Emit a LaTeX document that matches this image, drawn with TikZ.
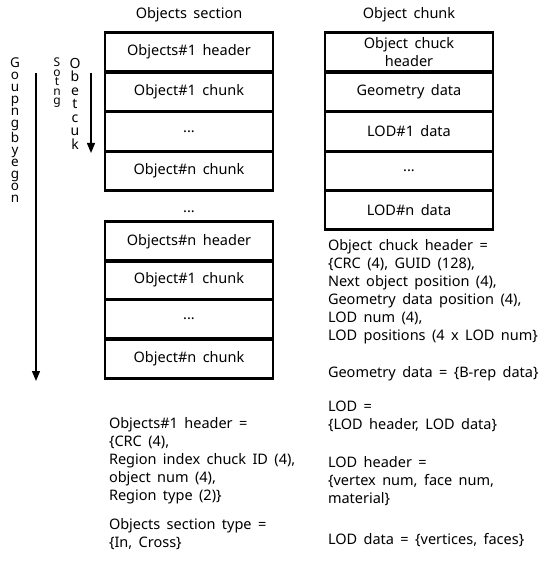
\documentclass[tikz,border=0pt]{standalone}
\usepackage{fontspec}
\setmainfont{Noto Sans}[WordSpace=1.7]
\usetikzlibrary{arrows.meta}
\begin{document}
\begin{tikzpicture}[x=1pt,y=-1pt,
  every node/.style={inner sep=0pt, outer sep=0pt},
  cell/.style={draw=black, line width=2.6pt, minimum width=168pt, minimum height=39.5pt,
    font=\fontsize{14.5}{15}\selectfont, align=center},
  title/.style={font=\fontsize{14.5}{15}\selectfont},
  note/.style={font=\fontsize{14.5}{18}\selectfont, align=left, anchor=north west},
  vert/.style={font=\fontsize{13.5}{12}\selectfont, align=center, anchor=north},
  flow/.style={line width=1.3pt, -{Triangle[length=10pt,width=8pt]}}]
\useasboundingbox (0,0) rectangle (544,564);

% titles
\node[title] (t1) at (189,15) {Objects section};
\node[title] (t2) at (409,15) {Object chunk};

% objects section, first group
\node[cell] (a1) at (189,52)    {Objects\#1 header};
\node[cell] (a2) at (189,92)    {Object\#1 chunk};
\node[cell] (a3) at (189,131.5) {...};
\node[cell] (a4) at (189,171)   {Object\#n chunk};

\node[title] (gap) at (189,212) {...};

% objects section, last group
\node[cell] (b1) at (189,241.5) {Objects\#n header};
\node[cell] (b2) at (189,280)   {Object\#1 chunk};
\node[cell] (b3) at (189,319)   {...};
\node[cell] (b4) at (189,359)   {Object\#n chunk};

% object chunk layout
\node[cell, font=\fontsize{14.5}{18}\selectfont] (c1) at (409,52) {Object chuck\\header};
\node[cell] (c2) at (409,92)    {Geometry data};
\node[cell] (c3) at (409,131.5) {LOD\#1 data};
\node[cell] (c4) at (409,171)   {...};
\node[cell] (c5) at (409,210)   {LOD\#n data};

% ordering arrows
\coordinate (g0) at (36,73);
\coordinate (g1) at (36,381);
\draw[flow] (g0) -- (g1);
\coordinate (o0) at (91,73);
\coordinate (o1) at (91,153);
\draw[flow] (o0) -- (o1);

% stacked labels
\node[vert] (lg) at (15,58) {G\\o\\u\\p\\n\\g\\b\\y\\e\\g\\o\\n};
\node[vert, font=\fontsize{12}{9.5}\selectfont] (ls) at (57,58) {S\\o\\t\\n\\g};
\node[vert, font=\fontsize{14}{13.5}\selectfont] (lo) at (75,58) {O\\b\\e\\t\\c\\u\\k};

% field descriptions
\node[note] (n1) at (109,417) {Objects\#1 header =\\
\{CRC (4),\\
Region index chuck ID (4),\\
object num (4),\\
Region type (2)\}};
\node[note] (n2) at (109,518) {Objects section type =\\
\{In, Cross\}};

\node[note] (m1) at (328,239) {Object chuck header =\\
\{CRC (4), GUID (128),\\
Next object position (4),\\
Geometry data position (4),\\
LOD num (4),\\
LOD positions (4 x LOD num\}};
\node[note] (m2) at (328,366) {Geometry data = \{B-rep data\}};
\node[note] (m3) at (328,401) {LOD =\\
\{LOD header, LOD data\}};
\node[note] (m4) at (328,456) {LOD header =\\
\{vertex num, face num,\\
material\}};
\node[note] (m5) at (328,533) {LOD data = \{vertices, faces\}};
\end{tikzpicture}
\end{document}
